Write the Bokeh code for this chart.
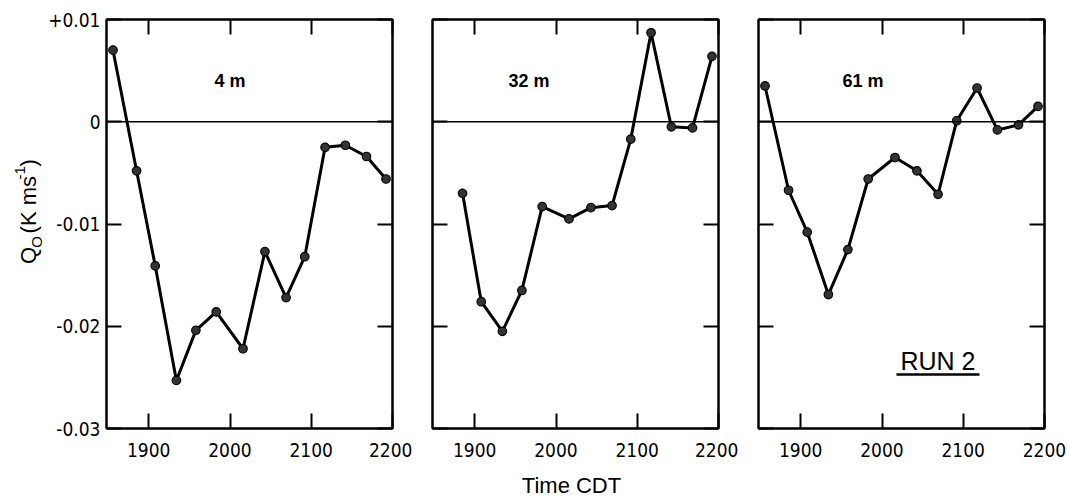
from math import pi
from bokeh.plotting import figure
from bokeh.models import (Range1d, FixedTicker, LinearAxis, CustomJSTickFormatter,
                          Span, Label)
from bokeh.layouts import row, column
from bokeh.embed import file_html
from bokeh.resources import INLINE

# ---------------- data ----------------
times = [1856, 1885, 1908, 1934, 1958, 1983, 2016, 2043, 2069, 2092, 2117, 2142, 2168, 2192]
times_32m = [1885, 1908, 1934, 1958, 1983, 2016, 2043, 2069, 2092, 2117, 2142, 2168, 2192]
q_4m = [0.0070, -0.0048, -0.0141, -0.0253, -0.0204, -0.0186, -0.0222, -0.0127,
        -0.0172, -0.0132, -0.0025, -0.0023, -0.0034, -0.0056]
q_32m = [-0.0070, -0.0176, -0.0205, -0.0165, -0.0083, -0.0095, -0.0084, -0.0082,
         -0.0017, 0.0087, -0.0005, -0.0006, 0.0064]
q_61m = [0.0035, -0.0067, -0.0108, -0.0169, -0.0125, -0.0056, -0.0035, -0.0048,
         -0.0071, 0.0001, 0.0033, -0.0008, -0.0003, 0.0015]
panel_names = ["4 m", "32 m", "61 m"]
x_ticks = [1900, 2000, 2100, 2200]
y_ticks = [-0.03, -0.02, -0.01, 0.0, 0.01]
x_title = "Time CDT"
run_label = "RUN 2"
# y-axis title pieces: (text, font size, role)
y_title_parts = [("Q", 22, "main"), ("O", 15, "sub"), ("(K ms", 22, "main"),
                 ("-1", 15, "sup"), (")", 22, "main")]

# ---------------- layout ----------------
X0, X1 = 1848, 2200
Y0, Y1 = -0.03, 0.01
FRAME_W, FRAME_H = 286, 409
TOP, BOTTOM = 19, 39
STRIP_H = 30
ROW_H = TOP + FRAME_H + BOTTOM
YLAB_W = 44
NARROW = "DejaVu Sans Condensed"
SANS = "Liberation Sans"

def px2x(px, left):
    return X0 + (px - left) * (X1 - X0) / FRAME_W

def py2y(py):
    return Y1 - (py - TOP) * (Y1 - Y0) / FRAME_H

blank = CustomJSTickFormatter(code="return '';")
yfmt = CustomJSTickFormatter(code="""
const v = Math.round(tick*100);
if (v > 0) return '+' + tick.toFixed(2);
if (v == 0) return '0';
return '-' + Math.abs(tick).toFixed(2);
""")

def style_axis(ax, labels):
    ax.axis_line_width = 2
    ax.axis_line_color = "black"
    ax.major_tick_in = 15
    ax.major_tick_out = 0
    ax.major_tick_line_width = 2
    ax.major_tick_line_color = "black"
    ax.minor_tick_line_color = None
    if not labels:
        ax.formatter = blank
        ax.major_label_standoff = 0
        ax.major_label_text_font_size = "1px"


def make_panel(xs, ys, left_border, right_border, first):
    p = figure(width=left_border + FRAME_W + right_border, height=ROW_H,
               x_range=Range1d(X0, X1), y_range=Range1d(Y0, Y1),
               output_backend="svg", toolbar_location=None,
               min_border_left=left_border, min_border_right=right_border,
               min_border_top=TOP, min_border_bottom=BOTTOM,
               background_fill_color="white", border_fill_color="white")
    p.grid.visible = False
    p.outline_line_color = "black"
    p.outline_line_width = 2

    xa = p.xaxis[0]
    xa.ticker = FixedTicker(ticks=x_ticks)
    style_axis(xa, True)
    xa.major_label_text_font = NARROW
    xa.major_label_text_font_size = "19px"
    xa.major_label_standoff = 14
    xa.major_label_text_color = "black"

    ya = p.yaxis[0]
    ya.ticker = FixedTicker(ticks=y_ticks)
    if first:
        style_axis(ya, True)
        ya.formatter = yfmt
        ya.major_label_text_font = NARROW
        ya.major_label_text_font_size = "19px"
        ya.major_label_standoff = 6
        ya.major_label_text_color = "black"
    else:
        style_axis(ya, False)

    top = LinearAxis(ticker=FixedTicker(ticks=x_ticks))
    style_axis(top, False)
    p.add_layout(top, "above")
    right = LinearAxis(ticker=FixedTicker(ticks=y_ticks))
    style_axis(right, False)
    p.add_layout(right, "right")

    p.add_layout(Span(location=0, dimension="width", line_color="black", line_width=1.5))

    p.line(xs, ys, line_color="black", line_width=3)
    p.scatter(xs, ys, marker="circle", size=8.5, fill_color="#333333",
              line_color="black", line_width=1.2)
    return p

p1 = make_panel(times, q_4m, 106 - YLAB_W, 20, True)
p2 = make_panel(times_32m, q_32m, 20, 20, False)
p3 = make_panel(times, q_61m, 20, 23, False)

# panel names
for p, name, cx, left in [(p1, panel_names[0], 229.5, 106), (p2, panel_names[1], 528.5, 432),
                          (p3, panel_names[2], 862.5, 758)]:
    p.add_layout(Label(x=px2x(cx, left), y=py2y(80), text=name, text_align="center",
                       text_baseline="middle", text_font=SANS, text_font_style="bold",
                       text_font_size="18px", text_color="black"))

# RUN 2 with underline
p3.add_layout(Label(x=px2x(937.5, 758), y=py2y(360), text=run_label, text_align="center",
                    text_baseline="middle", text_font=SANS, text_font_size="25px",
                    text_color="black"))
p3.line([px2x(896, 758), px2x(979, 758)], [py2y(374), py2y(374)],
        line_color="black", line_width=2.5)

# y-axis title strip (pixel coordinates)
p0 = figure(width=YLAB_W, height=ROW_H, x_range=Range1d(0, YLAB_W), y_range=Range1d(0, ROW_H),
            output_backend="svg", toolbar_location=None, min_border=0,
            x_axis_location=None, y_axis_location=None,
            background_fill_color="white", border_fill_color="white")
p0.grid.visible = False
p0.outline_line_color = None

# approximate advance widths (em) for Liberation Sans
ADV = {"Q": 0.778, "O": 0.778, "(": 0.333, "K": 0.667, " ": 0.278, "m": 0.833,
       "s": 0.5, "-": 0.333, "1": 0.556, ")": 0.333}
XC = {"main": 28, "sub": 36, "sup": 19}
GAP = {"Q": 1, "O": 8, "(K ms": 1, "-1": 1, ")": 0}
pos = 278.0  # bottom end of the rotated title, in pixels from the top
for text, size, role in y_title_parts:
    w = sum(ADV[c] for c in text) * size
    center = pos - w / 2
    p0.add_layout(Label(x=XC[role], y=ROW_H - center, text=text, angle=pi / 2,
                        text_align="center", text_baseline="middle",
                        text_font=SANS, text_font_size=f"{size}px", text_color="black"))
    pos -= w + GAP[text]

# x-axis title strip
TOTAL_W = YLAB_W + p1.width + p2.width + p3.width
pb = figure(width=TOTAL_W, height=STRIP_H, x_range=Range1d(0, TOTAL_W), y_range=Range1d(0, STRIP_H),
            output_backend="svg", toolbar_location=None, min_border=0,
            x_axis_location=None, y_axis_location=None,
            background_fill_color="white", border_fill_color="white")
pb.grid.visible = False
pb.outline_line_color = None
pb.add_layout(Label(x=571, y=STRIP_H - (485 - ROW_H), text=x_title, text_align="center",
                    text_baseline="middle", text_font=SANS, text_font_size="22px",
                    text_color="black"))

layout = column(row(p0, p1, p2, p3, spacing=0), pb, spacing=0)
open("out.html", "w").write(file_html(layout, INLINE))
